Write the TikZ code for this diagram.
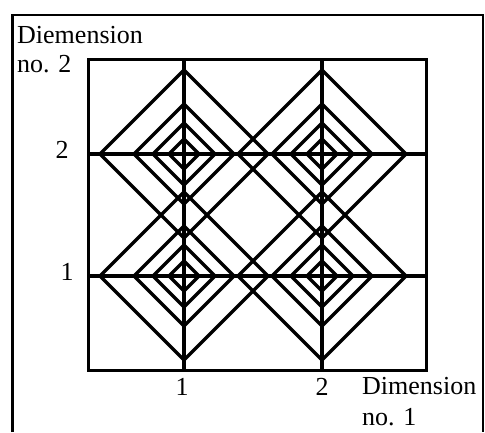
\documentclass[tikz,border=0pt]{standalone}
\usepackage{fontspec}
\setmainfont{Liberation Serif}
\begin{document}
\begin{tikzpicture}[x=1pt,y=-1pt,
  lbl/.style={inner sep=0pt,font=\fontsize{26}{29}\selectfont},
  frameline/.style={line width=2.2pt},
  grid/.style={line width=3.4pt},
  dia/.style={line width=3.4pt,line join=miter}]
\useasboundingbox (0,0) rectangle (485,432);
% outer frame (open at the bottom)
\draw[frameline] (12.5,432) -- (12.5,15) -- (483,15) -- (483,432);
% inner box
\node[draw,line width=3.4pt,inner sep=0pt,minimum width=338pt,minimum height=311pt,anchor=north west] (box) at (87,58) {};
% centres
\coordinate (c11) at (184,276);
\coordinate (c21) at (322,276);
\coordinate (c12) at (184,154);
\coordinate (c22) at (322,154);
% grid lines
\draw[grid] (184,58) -- (184,369);
\draw[grid] (322,58) -- (322,369);
\draw[grid] (87,154) -- (425,154);
\draw[grid] (87,276) -- (425,276);
% concentric diamonds
\foreach \c in {c11,c21,c12,c22}{
  \foreach \r in {84,50,31,15}{
    \draw[dia] ([xshift=-\r pt]\c) -- ([yshift=\r pt]\c) -- ([xshift=\r pt]\c) -- ([yshift=-\r pt]\c) -- cycle;
  }
}
% labels
\node[lbl,anchor=base west] (ylab1) at (17,43) {Diemension};
\node[lbl,anchor=base west] (ylab2) at (17,72) {no. 2};
\node[lbl,anchor=base] (yt2) at (62,158) {2};
\node[lbl,anchor=base] (yt1) at (67,280) {1};
\node[lbl,anchor=base] (xt1) at (182,395) {1};
\node[lbl,anchor=base] (xt2) at (322,395) {2};
\node[lbl,anchor=base west] (xlab1) at (362,394) {Dimension};
\node[lbl,anchor=base west] (xlab2) at (362,425) {no. 1};
\end{tikzpicture}
\end{document}
